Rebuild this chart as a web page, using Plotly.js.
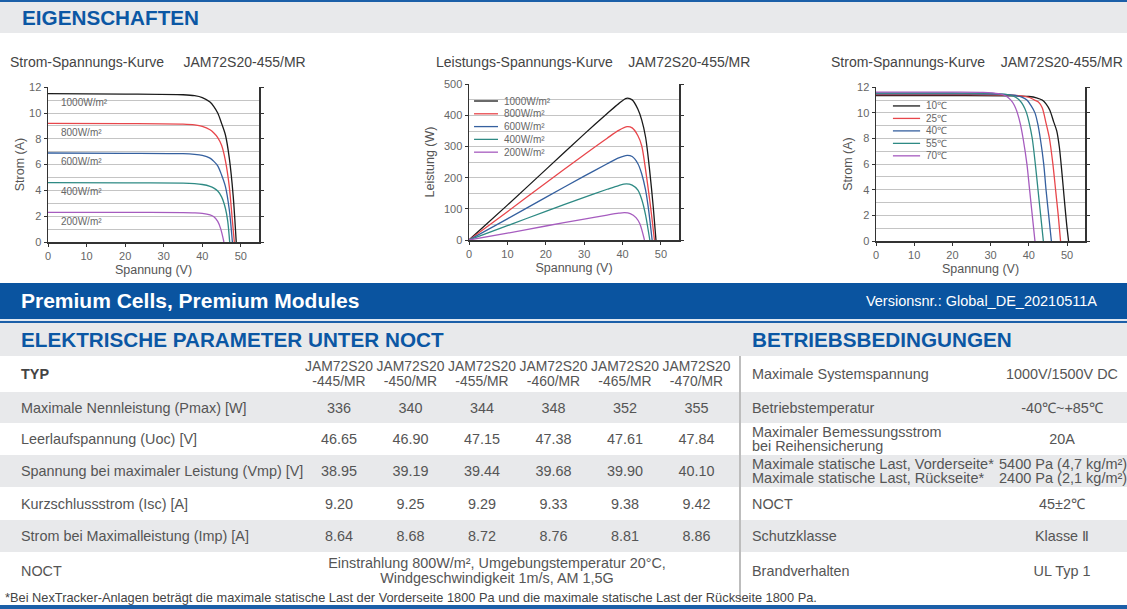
<!DOCTYPE html>
<html>
<head>
<meta charset="utf-8">
<script src="https://cdn.plot.ly/plotly-3.0.1.min.js"></script>
<style>
body { margin:0; width:1127px; height:609px; position:relative; overflow:hidden; background:#fff;
       font-family:"Liberation Sans", Arial, sans-serif; color:#555; }
.abs { position:absolute; white-space:nowrap; }
.band { position:absolute; left:0; width:1127px; }
.head { position:absolute; color:#0b57a4; font-weight:bold; font-size:20.7px; }
.cell { position:absolute; display:flex; align-items:center; font-size:14.4px; color:#555; }
.chart { position:absolute; }
</style>
</head>
<body>

<div class="band" style="top:0;height:2px;background:#1b5fa8"></div>
<div class="band" style="top:2px;height:31px;background:#e8e9eb"></div>
<div class="head" style="left:22px;top:2px;line-height:31px">EIGENSCHAFTEN</div>

<div id="chart1" class="chart" style="left:0;top:50px;width:330px;height:230px"></div>
<div id="chart2" class="chart" style="left:410px;top:50px;width:370px;height:230px"></div>
<div id="chart3" class="chart" style="left:826px;top:50px;width:301px;height:230px"></div>

<div class="band" style="top:283px;height:36px;background:#0a54a0"></div>
<div class="abs" style="left:21px;top:283px;line-height:36px;color:#fff;font-weight:bold;font-size:21px">Premium Cells, Premium Modules</div>
<div class="abs" style="right:30px;top:283px;line-height:36px;color:#fff;font-size:14.5px">Versionsnr.: Global_DE_20210511A</div>
<div class="band" style="top:319px;height:2px;background:#dfe7f1"></div>
<div class="band" style="top:321px;height:2px;background:#1b5fa8"></div>
<div class="band" style="top:323px;height:33px;background:#e8e9eb"></div>
<div class="head" style="left:21px;top:323px;line-height:33px">ELEKTRISCHE PARAMETER UNTER NOCT</div>
<div class="head" style="left:752px;top:323px;line-height:33px">BETRIEBSBEDINGUNGEN</div>

<div id="tables"></div>

<script>
// ---- chart data ----
var irrLabels = ["1000W/m²", "800W/m²", "600W/m²", "400W/m²", "200W/m²"];
var tempLabels = ["10℃", "25℃", "40℃", "55℃", "70℃"];
var curveColors = ["#1a1a1a", "#e8464b", "#35609f", "#2e8a84", "#a65cbf"];

// Strom-Spannung at different irradiance
var iv1000V = [0, 20, 35, 38, 40, 42, 43, 44, 45, 46, 47, 48, 48.8];
var iv1000I = [11.5, 11.47, 11.42, 11.35, 11.2, 10.85, 10.5, 10.0, 9.2, 8.3, 6.5, 3.6, 0];
var iv800V = [0, 20, 35, 38, 40, 42, 43, 44, 45, 46, 47, 47.7, 48.3];
var iv800I = [9.2, 9.18, 9.14, 9.08, 8.97, 8.7, 8.45, 8.1, 7.5, 6.3, 4.3, 2.0, 0];
var iv600V = [0, 20, 35, 38, 40, 42, 43, 44, 45, 46, 47, 47.8];
var iv600I = [6.9, 6.88, 6.85, 6.8, 6.72, 6.5, 6.25, 5.9, 5.2, 4.3, 2.5, 0];
var iv400V = [0, 20, 35, 38, 40, 42, 43, 44, 45, 46, 46.6, 47.1];
var iv400I = [4.6, 4.59, 4.56, 4.52, 4.46, 4.32, 4.18, 3.95, 3.5, 2.6, 1.6, 0];
var iv200V = [0, 20, 35, 38, 40, 42, 43, 44, 44.8, 45.6];
var iv200I = [2.3, 2.3, 2.28, 2.26, 2.22, 2.1, 1.95, 1.6, 1.0, 0];

// Leistung-Spannung at different irradiance
var p1000V = [0, 10, 20, 30, 36, 39, 41, 42.5, 44, 45, 46, 47, 48, 48.7];
var p1000P = [0, 112, 226, 340, 406, 438, 455, 450, 420, 385, 330, 230, 105, 0];
var p800V = [0, 10, 20, 30, 36, 39, 41.2, 42.5, 44, 45, 46, 47, 47.7, 48.3];
var p800P = [0, 91, 183, 274, 327, 352, 364, 360, 335, 302, 225, 135, 65, 0];
var p600V = [0, 10, 20, 30, 36, 39, 41.2, 42.5, 44, 45, 46, 46.8, 47.7];
var p600P = [0, 68, 137, 205, 245, 264, 272, 268, 245, 212, 160, 95, 0];
var p400V = [0, 10, 20, 30, 36, 39, 41, 42.5, 44, 45, 46, 46.5, 47.1];
var p400P = [0, 46, 92, 137, 163, 175, 180, 176, 160, 130, 80, 45, 0];
var p200V = [0, 10, 20, 30, 36, 39, 40.5, 42, 43.5, 44.5, 45.7];
var p200P = [0, 22, 45, 67, 80, 86, 88, 85, 72, 52, 0];

// Strom-Spannung at different cell temperature
var t10V = [0, 20, 36, 40, 42, 43.5, 44.5, 45.5, 46.5, 47.3, 48, 48.7, 49.3, 49.9, 50.4];
var t10I = [11.35, 11.35, 11.33, 11.28, 11.18, 11.0, 10.7, 10.2, 9.3, 8.6, 7.3, 5.2, 3.2, 1.3, 0];
var t25V = [0, 20, 34, 38, 40, 41.5, 42.5, 43.5, 44.5, 45.4, 46.3, 47, 47.7, 48.3];
var t25I = [11.42, 11.42, 11.4, 11.33, 11.22, 11.0, 10.85, 10.4, 9.2, 8.0, 6.0, 4.0, 2.0, 0];
var t40V = [0, 20, 32, 36, 38, 39.5, 40.5, 41.6, 42.3, 43, 43.9, 44.5, 45.2, 45.9];
var t40I = [11.48, 11.48, 11.46, 11.38, 11.25, 11.0, 10.6, 10.0, 9.2, 8.0, 6.0, 4.0, 2.0, 0];
var t55V = [0, 20, 30, 34, 36, 37.5, 38.5, 39.4, 40.1, 40.9, 41.7, 42.4, 43.1, 43.8];
var t55I = [11.55, 11.55, 11.53, 11.45, 11.3, 11.0, 10.6, 10.0, 9.2, 8.0, 6.0, 4.0, 2.0, 0];
var t70V = [0, 20, 28, 32, 34, 35.3, 36.2, 37, 37.8, 38.5, 39.5, 40.2, 40.9, 41.6];
var t70I = [11.62, 11.62, 11.6, 11.5, 11.32, 11.0, 10.6, 10.0, 9.1, 8.0, 6.0, 4.0, 2.0, 0];

// ---- table data ----
var modelTypes = ["445", "450", "455", "460", "465", "470"];
var paramLabels = ["Maximale Nennleistung (Pmax) [W]", "Leerlaufspannung (Uoc) [V]",
  "Spannung bei maximaler Leistung (Vmp) [V]", "Kurzschlussstrom (Isc) [A]",
  "Strom bei Maximalleistung (Imp) [A]"];
var pmaxW = ["336", "340", "344", "348", "352", "355"];
var uocV = ["46.65", "46.90", "47.15", "47.38", "47.61", "47.84"];
var vmpV = ["38.95", "39.19", "39.44", "39.68", "39.90", "40.10"];
var iscA = ["9.20", "9.25", "9.29", "9.33", "9.38", "9.42"];
var impA = ["8.64", "8.68", "8.72", "8.76", "8.81", "8.86"];
var noctText = ["Einstrahlung 800W/m², Umgebungstemperatur 20°C,", "Windgeschwindigkeit 1m/s, AM 1,5G"];
var opLabels = ["Maximale Systemspannung", "Betriebstemperatur",
  "Maximaler Bemessungsstrom<br>bei Reihensicherung",
  "Maximale statische Last, Vorderseite*<br>Maximale statische Last, Rückseite*",
  "NOCT", "Schutzklasse", "Brandverhalten"];
var opValues = ["1000V/1500V DC", "-40℃~+85℃", "20A",
  "5400 Pa (4,7 kg/m²)<br>2400 Pa (2,1 kg/m²)", "45±2℃", "Klasse Ⅱ", "UL Typ 1"];
var footnote = "*Bei NexTracker-Anlagen beträgt die maximale statische Last der Vorderseite 1800 Pa und die maximale statische Last der Rückseite 1800 Pa.";

// ---- charts ----
var ax = {
  tickfont: {size: 11, color: "#666"},
  showline: true, linecolor: "#333", linewidth: 1.5,
  ticks: "outside", ticklen: 3, tickcolor: "#333",
  zeroline: false
};

function layoutFor(title, titleX, ytitle, yr, ydt, yminor, m) {
  return {
    width: m.w, height: 230,
    margin: {l: m.l, r: m.r, t: m.t, b: m.b},
    paper_bgcolor: "rgba(0,0,0,0)", plot_bgcolor: "#fff",
    font: {family: "Liberation Sans, Arial, sans-serif", color: "#555"},
    showlegend: false,
    title: {text: title, x: titleX, xanchor: "left", xref: "container",
            y: 1 - 12 / 230, yanchor: "middle", yref: "container",
            font: {size: 14, color: "#444"}},
    xaxis: Object.assign({}, ax, {range: [0, 54.7], dtick: 10, tick0: 0, showgrid: false,
            title: {text: "Spannung (V)", font: {size: 12.5, color: "#555"}, standoff: 4}}),
    yaxis: Object.assign({}, ax, {range: yr, dtick: ydt, tick0: 0, mirror: "ticks",
            showgrid: true, gridcolor: "#c4c4c4", gridwidth: 1,
            minor: {dtick: yminor, showgrid: true, gridcolor: "#c4c4c4", gridwidth: 1},
            title: {text: ytitle, font: {size: 12.5, color: "#555"}, standoff: m.ys}}),
    shapes: [], annotations: []
  };
}

function lines(xs, ys) {
  return xs.map(function (x, k) {
    return {x: x, y: ys[k], type: "scatter", mode: "lines", hoverinfo: "skip",
            line: {color: curveColors[k], width: 1.3, shape: "spline", smoothing: 0.8}};
  });
}

function legendBox(lay, labels, x0, x1, xt, yTop, step) {
  labels.forEach(function (lab, k) {
    var yy = yTop - k * step;
    lay.shapes.push({type: "line", xref: "paper", yref: "paper", x0: x0, x1: x1, y0: yy, y1: yy,
                     line: {color: curveColors[k], width: 1.3}});
    lay.annotations.push({xref: "paper", yref: "paper", x: xt, y: yy, xanchor: "left", yanchor: "middle",
                          text: lab, showarrow: false, font: {size: 10, color: "#666"}});
  });
}

var cfg = {staticPlot: true, displayModeBar: false};
var gap = function (n) { return new Array(n + 1).join("\u00a0"); };

// chart 1
var ivV = [iv1000V, iv800V, iv600V, iv400V, iv200V];
var ivI = [iv1000I, iv800I, iv600I, iv400I, iv200I];
var lay1 = layoutFor("Strom-Spannungs-Kurve" + gap(5) + "JAM72S20-455/MR", 10 / 330, "Strom (A)",
                     [0, 12.02], 2, 1, {w: 330, l: 48, r: 71, t: 37, b: 38, ys: 1});
irrLabels.forEach(function (lab, k) {
  lay1.annotations.push({x: 2.8, y: ivI[k][0] - 0.68, xanchor: "left", yanchor: "middle",
                         text: lab, showarrow: false, font: {size: 10, color: "#666"}});
});
Plotly.newPlot("chart1", lines(ivV, ivI), lay1, cfg);

// chart 2
var pwV = [p1000V, p800V, p600V, p400V, p200V];
var pwP = [p1000P, p800P, p600P, p400P, p200P];
var lay2 = layoutFor("Leistungs-Spannungs-Kurve" + gap(4) + "JAM72S20-455/MR", 26 / 370, "Leistung (W)",
                     [0, 501], 100, 50, {w: 370, l: 59, r: 101, t: 34, b: 40, ys: 6});
legendBox(lay2, irrLabels, 0.024, 0.138, 0.155, 0.891, 0.082);
Plotly.newPlot("chart2", lines(pwV, pwP), lay2, cfg);

// chart 3
var tV = [t10V, t25V, t40V, t55V, t70V];
var tI = [t10I, t25I, t40I, t55I, t70I];
var lay3 = layoutFor("Strom-Spannungs-Kurve" + gap(4) + "JAM72S20-455/MR", 5 / 301, "Strom (A)",
                     [0, 12.02], 2, 1, {w: 301, l: 50, r: 42, t: 37, b: 39, ys: 1});
legendBox(lay3, tempLabels, 0.081, 0.211, 0.228, 0.877, 0.081);
Plotly.newPlot("chart3", lines(tV, tI), lay3, cfg);

// ---- tables ----
var rowTop = [356, 392, 423, 455, 487, 520, 552, 590];
var greyRows = [1, 3, 5];
var host = document.getElementById("tables");
function put(html, css, cls) {
  var d = document.createElement("div");
  d.className = cls || "abs";
  d.innerHTML = html;
  Object.assign(d.style, css);
  host.appendChild(d);
  return d;
}
greyRows.forEach(function (r) {
  var h = (rowTop[r + 1] - rowTop[r]) + "px";
  put("", {left: "0px", width: "739px", top: rowTop[r] + "px", height: h, background: "#e8e9eb"});
  put("", {left: "741px", width: "386px", top: rowTop[r] + "px", height: h, background: "#e8e9eb"});
});
put("", {left: "739px", width: "2px", top: "356px", height: "244px", background: "#bdbdbd"});

function rowCell(r, html, left, width, align, extra) {
  var css = {left: left + "px", width: width + "px", top: rowTop[r] + "px",
             height: (rowTop[r + 1] - rowTop[r]) + "px",
             justifyContent: align === "center" ? "center" : "flex-start",
             textAlign: align, whiteSpace: "nowrap"};
  Object.assign(css, extra || {});
  return put("<div>" + html + "</div>", css, "cell");
}

var colCenter = modelTypes.map(function (m, k) { return 339 + 71.5 * k; });
rowCell(0, "TYP", 21, 200, "left", {fontWeight: "bold", color: "#444"});
modelTypes.forEach(function (m, k) {
  rowCell(0, "JAM72S20<br>-" + m + "/MR", colCenter[k] - 40, 80, "center",
          {fontSize: "13.9px", lineHeight: "15px"});
});
var paramValues = [pmaxW, uocV, vmpV, iscA, impA];
paramLabels.forEach(function (lab, i) {
  rowCell(i + 1, lab, 21, 290, "left");
  paramValues[i].forEach(function (v, k) {
    rowCell(i + 1, v, colCenter[k] - 35, 70, "center");
  });
});
rowCell(6, "NOCT", 21, 100, "left");
rowCell(6, noctText.join("<br>"), 297, 400, "center", {lineHeight: "15px"});

opLabels.forEach(function (lab, i) {
  if (i === 3) {
    rowCell(i, lab, 752, 246, "left", {fontSize: "14.5px", lineHeight: "14px"});
    rowCell(i, opValues[i], 999, 140, "left", {fontSize: "14.5px", lineHeight: "14px"});
  } else {
    rowCell(i, lab, 752, 240, "left", {lineHeight: "14px"});
    rowCell(i, opValues[i], 992, 140, "center");
  }
});

put(footnote, {left: "5px", top: "590px", lineHeight: "15px", fontSize: "12.8px", color: "#444"});
put("", {left: "0px", width: "1127px", top: "605px", height: "4px", background: "#1b5fa8"});
</script>
</body>
</html>
